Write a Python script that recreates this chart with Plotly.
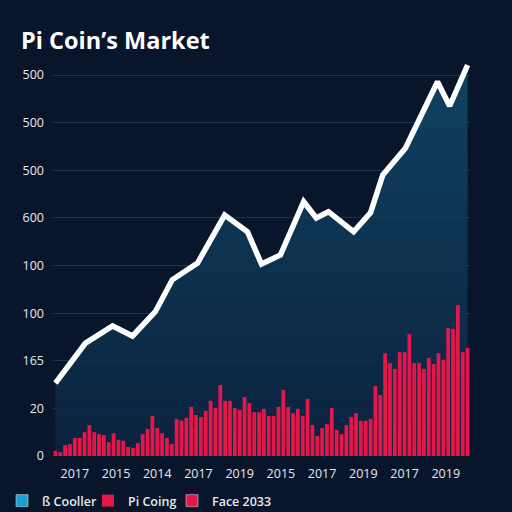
import plotly.graph_objects as go

# Bar series (values in axis units, gridline spacing = 10)
bar_values = [1.1, 0.8, 2.3, 2.5, 3.8, 3.8, 5.0, 6.5, 5.0, 4.6,
              4.4, 2.9, 4.8, 3.4, 3.2, 1.9, 1.7, 2.7, 4.6, 5.7,
              8.4, 5.9, 4.8, 3.8, 2.5, 7.8, 7.4, 8.0, 10.3, 8.6,
              8.2, 9.5, 11.6, 10.1, 14.9, 11.6, 11.6, 10.1, 9.7, 12.4,
              11.1, 9.2, 9.2, 9.9, 8.4, 8.4, 10.3, 13.9, 10.3, 9.0,
              9.9, 8.4, 12.0, 6.5, 4.2, 5.9, 6.7, 10.1, 5.5, 4.6,
              6.5, 8.2, 9.0, 7.4, 7.4, 7.8, 14.7, 12.8, 21.6, 19.5,
              18.3, 21.8, 21.8, 25.6, 19.5, 19.5, 18.3, 20.6, 19.3, 21.6,
              20.2, 26.9, 26.7, 31.7, 21.8, 22.7]
bar_x = list(range(len(bar_values)))

# Line series
line_x = [0, 6.2, 11.8, 15.9, 20.6, 24.1, 29.3, 34.9, 39.6, 42.5, 46.4,
          51.2, 53.8, 56.3, 61.5, 65.0, 67.5, 72.2, 78.8, 81.3, 85.0]
line_values = [15.3, 23.7, 27.3, 25.2, 30.3, 37.0, 40.5, 50.6, 47.1, 40.3, 42.2,
               53.4, 50.0, 51.3, 47.1, 51.1, 59.0, 64.7, 78.6, 73.5, 82.1]

# Axis labels
y_tickvals = [0, 10, 20, 30, 40, 50, 60, 70, 80]
y_ticktext = ["0", "20", "165", "100", "100", "600", "500", "500", "500"]
x_tickvals = [4, 12.5, 21, 29.5, 38, 46.5, 55, 63.5, 72, 80.5]
x_ticktext = ["2017", "2015", "2014", "2017", "2019", "2015", "2017", "2019", "2017", "2019"]

legend_names = ["ß Cooller", "Pi Coing", "Face 2033"]

XR = [-0.5, 85.5]
YR = [0, 84]
BG = "#08152a"
RED = "#e3174a"
FONT = "Open Sans"

fig = go.Figure()

# area fill (bottom subplot)
fig.add_trace(go.Scatter(
    x=line_x, y=line_values, mode="lines", line=dict(width=0),
    fill="tozeroy",
    fillgradient=dict(type="vertical",
                      colorscale=[[0, "rgba(11,36,66,0.85)"], [1, "rgba(16,74,106,0.85)"]]),
    showlegend=False, hoverinfo="skip", xaxis="x", yaxis="y"))

# legend-only dummy
fig.add_trace(go.Bar(x=[None], y=[None], name=legend_names[0], legend="legend",
                     marker=dict(color="#1c9fd3"), xaxis="x2", yaxis="y2"))

fig.add_trace(go.Bar(x=bar_x, y=bar_values, name=legend_names[1], legend="legend2",
                     marker=dict(color=RED, line=dict(width=0)),
                     xaxis="x2", yaxis="y2"))

fig.add_trace(go.Bar(x=[None], y=[None], name=legend_names[2], legend="legend3",
                     marker=dict(color=RED), xaxis="x2", yaxis="y2"))

fig.add_trace(go.Scatter(x=line_x, y=line_values, mode="lines",
                         line=dict(color="white", width=5.5),
                         showlegend=False, xaxis="x2", yaxis="y2"))

def leg(xpx):
    return dict(orientation="h", xref="container", yref="container",
                x=xpx/512, xanchor="left", y=1-501/512, yanchor="middle",
                font=dict(size=12.5, color="#e6eaf0", weight=600),
                bgcolor="rgba(0,0,0,0)")

fig.update_layout(
    width=512, height=512,
    margin=dict(l=53, r=42, t=56, b=56, autoexpand=False),
    paper_bgcolor=BG, plot_bgcolor=BG,
    bargap=0.22,
    font=dict(family=FONT, color="#e6eaf0", size=12),
    title=dict(text="<b>Pi Coin’s Market</b>", x=21/512, xanchor="left",
               y=1-41/512, yanchor="middle",
               font=dict(family=FONT, size=23.5, color="white")),
    xaxis=dict(range=XR, tickvals=x_tickvals, ticktext=x_ticktext,
               showgrid=False, zeroline=False, showline=False, ticks="",
               ticklabelstandoff=8,
               tickfont=dict(size=12.5, color="#e6eaf0")),
    yaxis=dict(range=YR, tickvals=y_tickvals, ticktext=y_ticktext,
               showgrid=True, gridcolor="rgba(70,110,150,0.35)", gridwidth=1,
               zeroline=False, showline=False, ticks="", ticklabelstandoff=8,
               tickfont=dict(size=12.5, color="#e6eaf0")),
    xaxis2=dict(range=XR, overlaying="x", visible=False),
    yaxis2=dict(range=YR, overlaying="y", visible=False),
    legend=leg(2),
    legend2=leg(88),
    legend3=leg(172),
)

fig.write_html("out.html")
